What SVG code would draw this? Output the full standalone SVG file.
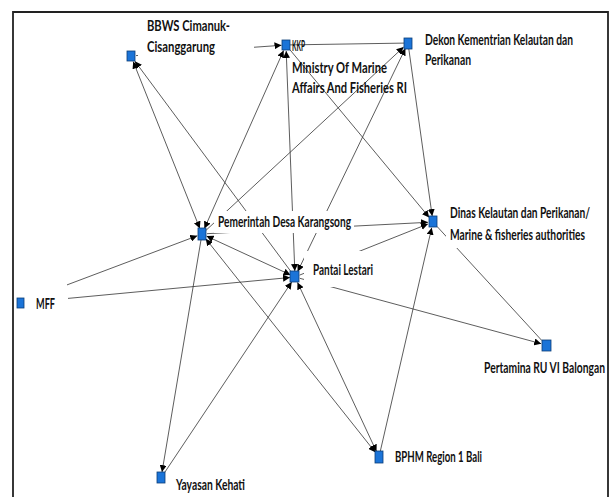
<svg xmlns="http://www.w3.org/2000/svg" width="612" height="497" viewBox="0 0 612 497">
<style>
.e{stroke:#333;stroke-width:0.8;fill:none}
.a{marker-end:url(#ah)}
.s{marker-start:url(#as)}
.n{fill:#1b74d8;stroke:#0c3e78;stroke-width:0.8}
.t{font-family:Lato,"Liberation Sans",sans-serif;font-weight:700;font-size:15px;fill:#111}
.bg{fill:#fff}
</style>
<defs>
<marker id="ah" markerUnits="userSpaceOnUse" markerWidth="8" markerHeight="7" refX="7" refY="3.5" orient="auto"><path d="M0,0 L7,3.5 L0,7 z" fill="#000"/></marker>
<marker id="as" markerUnits="userSpaceOnUse" markerWidth="8" markerHeight="7" refX="7" refY="3.5" orient="auto-start-reverse"><path d="M0,0 L7,3.5 L0,7 z" fill="#000"/></marker>
</defs>
<rect x="0" y="0" width="612" height="497" fill="#fff"/>
<g id="frame" stroke="#222" stroke-width="1.8" fill="none">
<polyline points="13,497 13,12 608,12 608,497"/>
</g>
<g id="connectors">
<line class="e a" x1="136" y1="55.6" x2="281.5" y2="45.3"/>
<line class="e" x1="290" y1="44.9" x2="404" y2="43.1"/>
<line class="e a" x1="291.4" y1="272.2" x2="134.9" y2="61.2"/>
<line class="e a s" x1="199.8" y1="228.4" x2="133.2" y2="61.6"/>
<line class="e a s" x1="204.4" y1="228.5" x2="283.6" y2="50.5"/>
<line class="e a" x1="205.7" y1="230.6" x2="403.6" y2="47.1"/>
<line class="e a s" x1="294.8" y1="271" x2="286.2" y2="51"/>
<line class="e a s" x1="297.6" y1="271.6" x2="405.4" y2="48.4"/>
<line class="e a" x1="289.8" y1="49.6" x2="429.2" y2="217.4"/>
<line class="e a" x1="408.8" y1="48.9" x2="432.2" y2="216.1"/>
<line class="e a" x1="207" y1="233.7" x2="428" y2="222.3"/>
<line class="e a" x1="299.6" y1="275.1" x2="427.9" y2="224"/>
<line class="e a" x1="380.3" y1="451.2" x2="431.7" y2="227.8"/>
<line class="e" x1="437" y1="226.4" x2="541.9" y2="340.6"/>
<line class="e a" x1="299.8" y1="278.3" x2="541.2" y2="343.7"/>
<line class="e a" x1="67" y1="284.9" x2="197.3" y2="235.8"/>
<line class="e a" x1="68" y1="298.4" x2="290" y2="277.5"/>
<line class="e a s" x1="206.5" y1="236.1" x2="290.5" y2="274.9"/>
<line class="e a" x1="201" y1="239.9" x2="162" y2="472.1"/>
<line class="e a" x1="164.3" y1="473" x2="291.7" y2="282"/>
<line class="e a s" x1="205.7" y1="238.7" x2="375.3" y2="452.3"/>
<line class="e a s" x1="297.5" y1="282.4" x2="376.5" y2="451.6"/>
</g>
<g id="n-bbws">
<rect class="bg" x="138" y="14" width="116" height="43"/>
<rect class="n" x="127" y="51" width="8" height="10"/>
<text class="t" x="147" y="31" textLength="83" lengthAdjust="spacingAndGlyphs">BBWS Cimanuk-</text>
<text class="t" x="147" y="52" textLength="68" lengthAdjust="spacingAndGlyphs">Cisanggarung</text>
</g>
<g id="n-kkp">
<rect class="n" x="282" y="40" width="8" height="10"/>
<text class="t" x="292" y="51" textLength="13" lengthAdjust="spacingAndGlyphs">KKP</text>
<text class="t" x="292" y="73" textLength="95" lengthAdjust="spacingAndGlyphs">Ministry Of Marine</text>
<text class="t" x="292" y="93" textLength="115" lengthAdjust="spacingAndGlyphs">Affairs And Fisheries RI</text>
</g>
<g id="n-dekon">
<rect class="n" x="404" y="38" width="8" height="11"/>
<text class="t" x="425" y="45" textLength="148" lengthAdjust="spacingAndGlyphs">Dekon Kementrian Kelautan dan</text>
<text class="t" x="425" y="65" textLength="46" lengthAdjust="spacingAndGlyphs">Perikanan</text>
</g>
<g id="n-pemerintah">
<rect class="bg" x="214" y="211" width="140" height="22"/>
<rect class="n" x="198" y="228" width="8" height="12"/>
<text class="t" x="218" y="227" textLength="133" lengthAdjust="spacingAndGlyphs">Pemerintah Desa Karangsong</text>
</g>
<g id="n-pantai">
<rect class="bg" x="304" y="251" width="70" height="36"/>
<rect class="n" x="290" y="271" width="9" height="11"/>
<text class="t" x="313" y="275" textLength="60" lengthAdjust="spacingAndGlyphs">Pantai Lestari</text>
</g>
<g id="n-dinas">
<rect class="bg" x="446" y="204" width="150" height="44"/>
<rect class="n" x="429" y="216" width="8" height="11"/>
<text class="t" x="450" y="218" textLength="140" lengthAdjust="spacingAndGlyphs">Dinas Kelautan dan Perikanan/</text>
<text class="t" x="450" y="240" textLength="135" lengthAdjust="spacingAndGlyphs">Marine &amp; fisheries authorities</text>
</g>
<g id="n-mff">
<rect class="n" x="17" y="298" width="7" height="10"/>
<text class="t" x="36" y="309" textLength="19" lengthAdjust="spacingAndGlyphs">MFF</text>
</g>
<g id="n-pertamina">
<rect class="n" x="542" y="340" width="9" height="11"/>
<text class="t" x="484" y="373" textLength="121" lengthAdjust="spacingAndGlyphs">Pertamina RU VI Balongan</text>
</g>
<g id="n-bphm">
<rect class="n" x="375" y="451" width="8" height="12"/>
<text class="t" x="395" y="462" textLength="87" lengthAdjust="spacingAndGlyphs">BPHM Region 1 Bali</text>
</g>
<g id="n-yayasan">
<rect class="n" x="157" y="472" width="8" height="11"/>
<text class="t" x="176" y="490" textLength="69" lengthAdjust="spacingAndGlyphs">Yayasan Kehati</text>
</g>
</svg>
